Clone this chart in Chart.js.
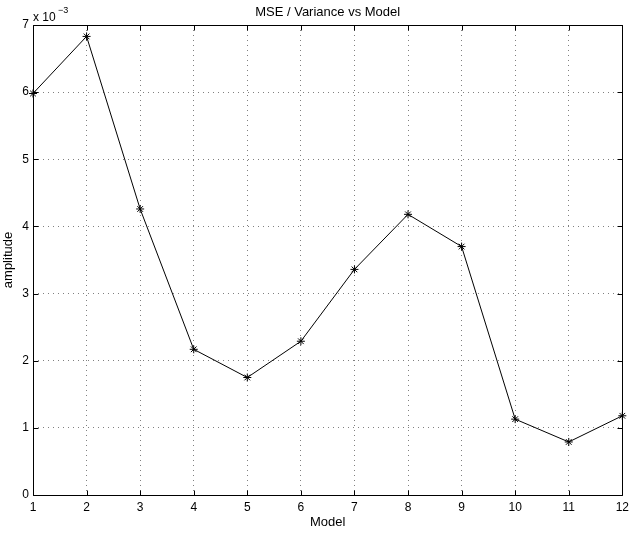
<!DOCTYPE html>
<html>
<head>
<meta charset="utf-8">
<script src="https://cdn.jsdelivr.net/npm/chart.js@4.4.0/dist/chart.umd.min.js"></script>
<style>
html, body { margin: 0; padding: 0; background: #fff; }
</style>
</head>
<body>
<canvas id="myChart" width="634" height="533"></canvas>
<script>
// モデル番号 (x軸)
const models = [1, 2, 3, 4, 5, 6, 7, 8, 9, 10, 11, 12];
// MSE / Variance (単位: x 10^-3)
const mseRatio = [5.98, 6.83, 4.26, 2.17, 1.75, 2.29, 3.36, 4.18, 3.70, 1.13, 0.79, 1.18];
// 目盛り
const xTicks = [1, 2, 3, 4, 5, 6, 7, 8, 9, 10, 11, 12];
const yTicks = [0, 1, 2, 3, 4, 5, 6, 7];

const chartTitle = "MSE / Variance vs Model";
const FONT = "'Liberation Sans', Arial, Helvetica, sans-serif";

// MATLAB風の枠・内向き目盛り・タイトル・指数表記
const matlabFrame = {
    id: "matlabFrame",
    afterDraw(chart) {
        const ctx = chart.ctx;
        const { left, right, top, bottom } = chart.chartArea;
        const x = chart.scales.x;
        const y = chart.scales.y;
        const L = Math.round(left) + 0.5, R = Math.round(right) + 0.5;
        const T = Math.round(top) + 0.5, B = Math.round(bottom) + 0.5;
        ctx.save();
        ctx.strokeStyle = "#000";
        ctx.lineWidth = 1;
        ctx.setLineDash([]);
        ctx.beginPath();
        ctx.rect(L, T, R - L, B - T);
        // 内向き目盛り
        xTicks.forEach((v) => {
            const px = Math.round(x.getPixelForValue(v)) + 0.5;
            ctx.moveTo(px, B); ctx.lineTo(px, B - 5);
            ctx.moveTo(px, T); ctx.lineTo(px, T + 5);
        });
        yTicks.forEach((v) => {
            const py = Math.round(y.getPixelForValue(v)) + 0.5;
            ctx.moveTo(L, py); ctx.lineTo(L + 5, py);
            ctx.moveTo(R, py); ctx.lineTo(R - 5, py);
        });
        ctx.stroke();

        ctx.fillStyle = "#000";
        ctx.textBaseline = "alphabetic";
        ctx.font = "13px " + FONT;
        ctx.textAlign = "center";
        ctx.fillText(chartTitle, (left + right) / 2, 16);

        ctx.textAlign = "left";
        ctx.font = "12px " + FONT;
        ctx.fillText("x 10", 33, 20.5);
        ctx.font = "9px " + FONT;
        ctx.fillText("\u22123", 58, 12.5);
        ctx.restore();
    },
};

const ctx = document.getElementById("myChart").getContext("2d");
const myChart = new Chart(ctx, {
    type: "line",
    data: {
        datasets: [
            {
                label: chartTitle,
                data: models.map((m, i) => ({ x: m, y: mseRatio[i] })),
                borderColor: "#000",
                backgroundColor: "#000",
                borderWidth: 1,
                tension: 0,
                fill: false,
                pointStyle: "star",
                pointRadius: 4,
                pointBorderWidth: 1,
                pointBorderColor: "#000",
                clip: false,
            },
        ],
    },
    options: {
        responsive: false,
        animation: false,
        events: [],
        layout: { padding: { top: 25, right: 6, left: 0, bottom: 0 } },
        plugins: {
            legend: { display: false },
            tooltip: { enabled: false },
            title: { display: false },
        },
        scales: {
            x: {
                type: "linear",
                min: 1,
                max: 12,
                afterBuildTicks: (s) => { s.ticks = xTicks.map((v) => ({ value: v })); },
                afterFit: (s) => { s.height = 38; },
                grid: { color: "#808080", lineWidth: 1, drawTicks: false },
                border: { display: false, dash: [1, 4] },
                ticks: {
                    padding: 5,
                    color: "#000",
                    font: { family: FONT, size: 12 },
                    maxRotation: 0,
                    autoSkip: false,
                },
                title: {
                    display: true,
                    text: "Model",
                    color: "#000",
                    font: { family: FONT, size: 13 },
                    padding: { top: 0, bottom: 3 },
                },
            },
            y: {
                type: "linear",
                min: 0,
                max: 7,
                afterBuildTicks: (s) => { s.ticks = yTicks.map((v) => ({ value: v })); },
                afterFit: (s) => { s.width = 33; },
                grid: { color: "#808080", lineWidth: 1, drawTicks: false },
                border: { display: false, dash: [1, 4] },
                ticks: {
                    padding: 4,
                    color: "#000",
                    font: { family: FONT, size: 12 },
                },
                title: {
                    display: true,
                    text: "amplitude",
                    color: "#000",
                    font: { family: FONT, size: 13 },
                    padding: { top: 1, bottom: 0 },
                },
            },
        },
    },
    plugins: [matlabFrame],
});
</script>
</body>
</html>
